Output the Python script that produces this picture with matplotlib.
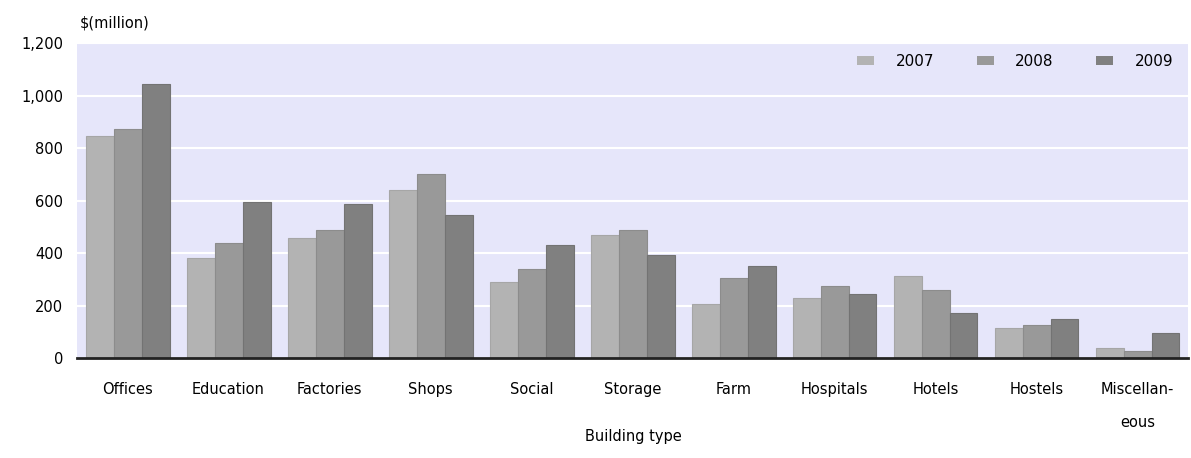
import numpy as np
import matplotlib
matplotlib.use('Agg')
import matplotlib.pyplot as plt

categories = ['Offices', 'Education', 'Factories', 'Shops', 'Social', 'Storage',
              'Farm', 'Hospitals', 'Hotels', 'Hostels', 'Miscellan-\neous']
years = ['2007', '2008', '2009']
v2007 = [847, 382, 458, 641, 291, 467, 207, 230, 314, 116, 40]
v2008 = [871, 437, 489, 702, 338, 489, 306, 275, 261, 124, 25]
v2009 = [1043, 596, 588, 543, 429, 391, 352, 245, 170, 147, 94]
yticks = [0, 200, 400, 600, 800, 1000, 1200]
ytick_labels = ['0', '200', '400', '600', '800', '1,000', '1,200']

COL = ['#b3b3b3', '#999999', '#808080']
EDGE = ['#a6a6a6', '#8c8c8c', '#737373']

fig = plt.figure(figsize=(11.91, 4.58), dpi=100)
ax = fig.add_axes([0.0647, 0.2183, 0.9328, 0.6877])
ax.set_facecolor('#e6e6fa')

x = np.arange(len(categories))
w = 0.277
for i, vals in enumerate([v2007, v2008, v2009]):
    ax.bar(x + (i - 1) * w, vals, w, color=COL[i], edgecolor=EDGE[i], lw=0.8,
           label=years[i], zorder=3)

ax.set_xlim(-0.5, len(categories) - 0.5)
ax.set_ylim(0, 1200)
ax.set_yticks(yticks)
ax.set_yticklabels(ytick_labels, fontsize=10.5)
ax.yaxis.grid(True, color='white', lw=1.5, zorder=1)
ax.set_axisbelow(True)
ax.set_xticks(x)
ax.set_xticklabels(categories, fontsize=10.5, linespacing=2.5, va='top')
ax.tick_params(axis='both', length=0)
ax.tick_params(axis='x', pad=17)
ax.tick_params(axis='y', pad=10)
for s in ['left', 'right', 'top']:
    ax.spines[s].set_visible(False)
ax.spines['bottom'].set_color('#222222')
ax.spines['bottom'].set_linewidth(2)
ax.spines['bottom'].set_zorder(5)

fig.text(0.532, 1 - 436 / 458, 'Building type', fontsize=10.5, ha='center', va='center')
fig.text(0.067, 0.95, '$(million)', fontsize=10.5, ha='left', va='center')

leg = ax.legend(ncol=3, loc='upper right', bbox_to_anchor=(0.999, 1.01), frameon=False,
                fontsize=11, handlelength=1.1, handleheight=0.55, handletextpad=1.4,
                columnspacing=2.8)
for p in leg.get_patches():
    p.set_edgecolor('none')

fig.savefig('out.png', dpi=100)
